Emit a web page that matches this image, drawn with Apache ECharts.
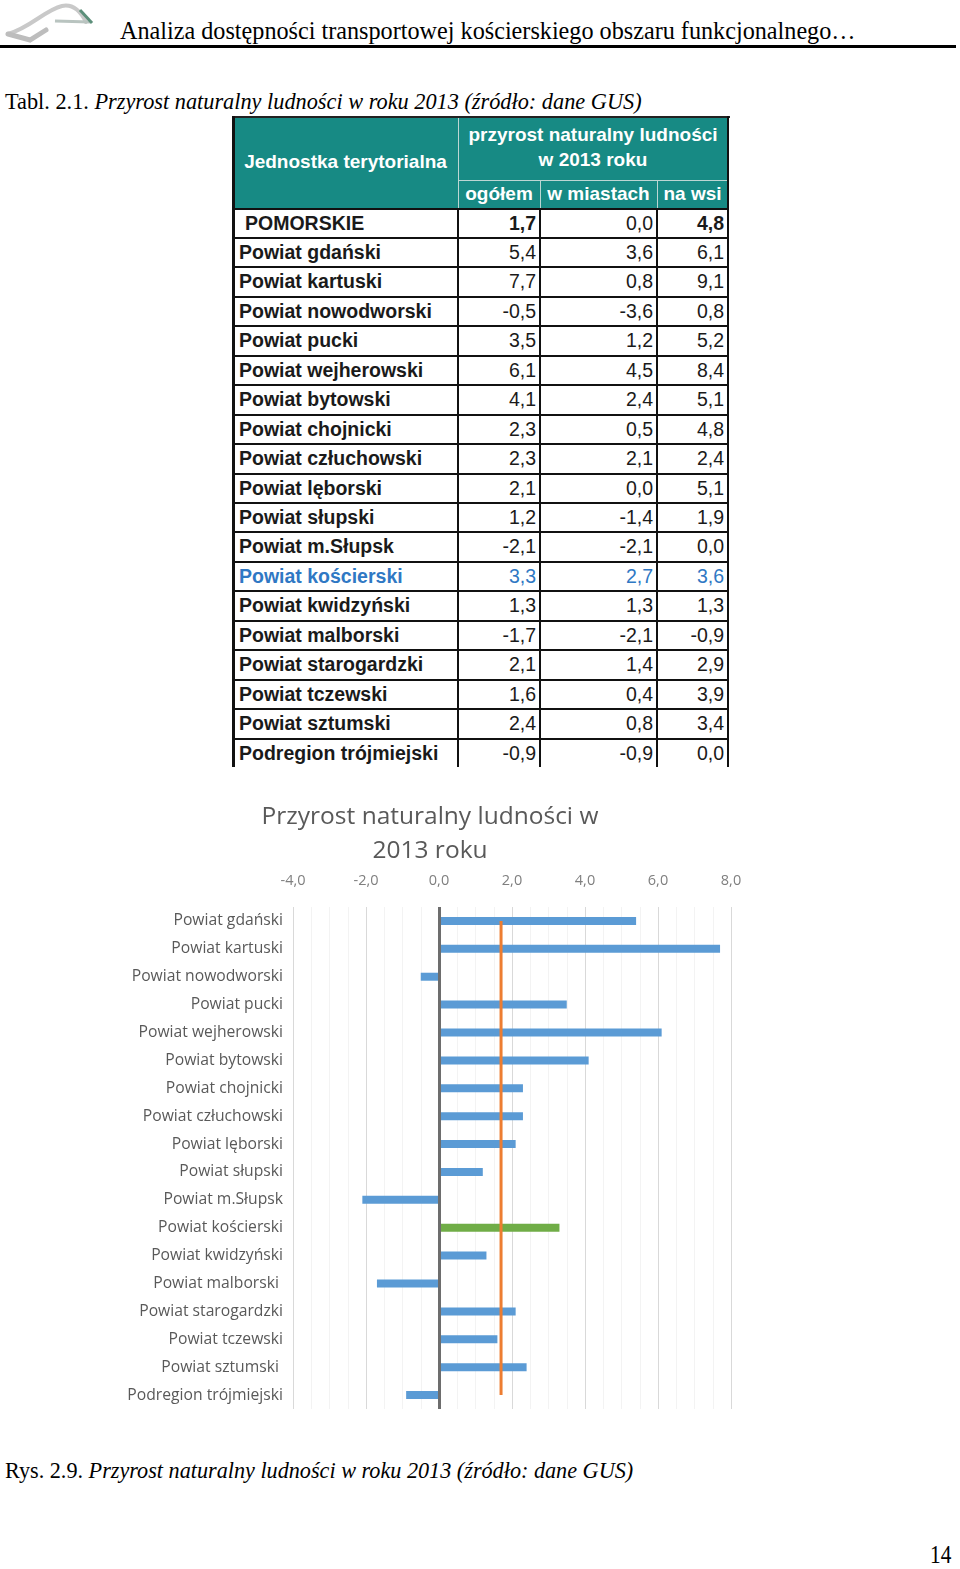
<!DOCTYPE html>
<html>
<head>
<meta charset="utf-8">
<script src="https://cdn.jsdelivr.net/npm/echarts@6/dist/echarts.min.js"></script>
<style>
  html, body { margin:0; padding:0; background:#fff; }
  body { width:960px; height:1569px; position:relative; overflow:hidden; }
  .abs { position:absolute; white-space:nowrap; }
  .serif { font-family:"Liberation Serif","DejaVu Serif",serif; color:#000; }
  .cell { position:absolute; font-family:"Liberation Sans",Arial,sans-serif; font-size:19.5px; line-height:29px; color:#1a1a1a; white-space:nowrap; }
  .hline, .vline { position:absolute; }
  #chart { position:absolute; left:0; top:780px; width:960px; height:660px; }
</style>
</head>
<body>
<!-- header -->
<svg class="abs" style="left:0;top:0" width="110" height="48">
  <path d="M8 34 C 30 28, 45 10, 62 6 C 72 4, 80 10, 86 22" fill="none" stroke="#c9c9c9" stroke-width="4" stroke-linecap="round"/>
  <path d="M8 34 L 30 40 L 46 30" fill="none" stroke="#bdbdbd" stroke-width="5" stroke-linecap="round"/>
  <path d="M55 21 L 90 22" fill="none" stroke="#b9c4c0" stroke-width="3"/>
  <path d="M80 10 L 92 23" fill="none" stroke="#5c8f7a" stroke-width="3"/>
</svg>
<div class="abs serif" id="hdr" style="left:120px;top:17px;font-size:24.2px;line-height:28px;">Analiza dostępności transportowej kościerskiego obszaru funkcjonalnego…</div>
<div class="abs" style="left:0;top:45px;width:956px;height:3px;background:#000;"></div>

<div class="abs serif" id="cap1" style="left:5px;top:89px;font-size:22.3px;line-height:26px;">Tabl. 2.1. <i>Przyrost naturalny ludności w roku 2013 (źródło: dane GUS)</i></div>

<div id="tbl" class="abs" style="left:0;top:0;width:960px;height:767px;overflow:hidden;"></div>

<div id="chart"></div>

<div class="abs serif" id="cap2" style="left:5px;top:1457px;font-size:23px;line-height:28px;transform:scaleX(0.965);transform-origin:0 0;">Rys. 2.9. <i>Przyrost naturalny ludności w roku 2013 (źródło: dane GUS)</i></div>
<div class="abs serif" style="left:930px;top:1541px;font-size:25px;line-height:28px;transform:scaleX(0.85);transform-origin:0 0;">14</div>

<script>
// ---------- DATA ----------
const tableUnits = ["POMORSKIE","Powiat gdański","Powiat kartuski","Powiat nowodworski","Powiat pucki","Powiat wejherowski","Powiat bytowski","Powiat chojnicki","Powiat człuchowski","Powiat lęborski","Powiat słupski","Powiat m.Słupsk","Powiat kościerski","Powiat kwidzyński","Powiat malborski","Powiat starogardzki","Powiat tczewski","Powiat sztumski","Podregion trójmiejski"];
const totalGrowth = [1.7,5.4,7.7,-0.5,3.5,6.1,4.1,2.3,2.3,2.1,1.2,-2.1,3.3,1.3,-1.7,2.1,1.6,2.4,-0.9];
const urbanGrowth = [0.0,3.6,0.8,-3.6,1.2,4.5,2.4,0.5,2.1,0.0,-1.4,-2.1,2.7,1.3,-2.1,1.4,0.4,0.8,-0.9];
const ruralGrowth = [4.8,6.1,9.1,0.8,5.2,8.4,5.1,4.8,2.4,5.1,1.9,0.0,3.6,1.3,-0.9,2.9,3.9,3.4,0.0];

const chartCategories = ["Powiat gdański","Powiat kartuski","Powiat nowodworski","Powiat pucki","Powiat wejherowski","Powiat bytowski","Powiat chojnicki","Powiat człuchowski","Powiat lęborski","Powiat słupski","Powiat m.Słupsk","Powiat kościerski","Powiat kwidzyński","Powiat malborski ","Powiat starogardzki","Powiat tczewski","Powiat sztumski ","Podregion trójmiejski"];
const chartValues = [5.4,7.7,-0.5,3.5,6.1,4.1,2.3,2.3,2.1,1.2,-2.1,3.3,1.3,-1.7,2.1,1.6,2.4,-0.9];
const regionAverage = 1.7;   // POMORSKIE
const highlighted = "Powiat kościerski";
const xTickLabels = ["-4,0","-2,0","0,0","2,0","4,0","6,0","8,0"];

// ---------- TABLE ----------
const tbl = document.getElementById('tbl');
const colX = [233, 458, 540, 657, 728];
const hTop = 117, hMid = 180, hBot = 208.5, rowH = 29.45;
const teal = '#178a84';
function el(cls, css, html) {
  const d = document.createElement('div');
  d.className = cls; d.style.cssText = css; if (html !== undefined) d.innerHTML = html;
  tbl.appendChild(d); return d;
}
el('hline', `left:${colX[0]}px;top:${hTop}px;width:${colX[4]-colX[0]}px;height:${hBot-hTop}px;background:${teal};`);
el('vline', `left:${colX[1]}px;top:${hTop}px;width:1px;height:${hBot-hTop}px;background:#bcd6d3;`);
el('hline', `left:${colX[1]}px;top:${hMid}px;width:${colX[4]-colX[1]}px;height:1px;background:#bcd6d3;`);
el('vline', `left:${colX[2]}px;top:${hMid}px;width:1px;height:${hBot-hMid}px;background:#bcd6d3;`);
el('vline', `left:${colX[3]}px;top:${hMid}px;width:1px;height:${hBot-hMid}px;background:#bcd6d3;`);
const hs = 'color:#fff;font-weight:bold;font-size:19px;text-align:center;';
el('cell', `${hs}left:${colX[0]}px;top:${hTop-1}px;width:${colX[1]-colX[0]}px;line-height:${hBot-hTop}px;height:${hBot-hTop}px;`, 'Jednostka terytorialna');
el('cell', `${hs}left:${colX[1]}px;top:${hTop+5}px;width:${colX[4]-colX[1]}px;line-height:25px;`, 'przyrost naturalny ludności<br>w 2013 roku');
const sub = ['ogółem','w miastach','na wsi'];
for (let i = 0; i < 3; i++) {
  el('cell', `${hs}left:${colX[i+1]}px;top:${hMid}px;width:${colX[i+2]-colX[i+1]}px;line-height:${hBot-hMid}px;`, sub[i]);
}
const fmt = v => v.toFixed(1).replace('.', ',');
tableUnits.forEach((name, r) => {
  const top = hBot + r * rowH;
  const isHL = name === highlighted;
  const color = isHL ? '#2f78c4' : '#1a1a1a';
  const pad = r === 0 ? 12 : 6;
  el('cell', `left:${colX[0]+pad}px;top:${top}px;height:${rowH}px;line-height:${rowH}px;font-weight:bold;color:${color};`, name);
  const vals = [totalGrowth[r], urbanGrowth[r], ruralGrowth[r]];
  vals.forEach((v, c) => {
    const bold = (r === 0 && c !== 1) ? 'font-weight:bold;' : '';
    el('cell', `left:${colX[c+1]}px;top:${top}px;width:${colX[c+2]-colX[c+1]-4}px;height:${rowH}px;line-height:${rowH}px;text-align:right;color:${color};${bold}`, fmt(v));
  });
  el('hline', `left:${colX[0]}px;top:${top+rowH-1}px;width:${colX[4]-colX[0]+1}px;height:2px;background:#111;`);
});
el('hline', `left:${colX[0]}px;top:${hBot-1}px;width:${colX[4]-colX[0]+1}px;height:2px;background:#111;`);
el('hline', `left:${colX[0]-1}px;top:${hTop-1}px;width:${colX[4]-colX[0]+3}px;height:2px;background:#222;`);
el('vline', `left:${colX[0]-1}px;top:${hTop-1}px;width:3px;height:800px;background:#111;`);
el('vline', `left:${colX[4]-1}px;top:${hTop-1}px;width:2px;height:800px;background:#111;`);
for (let i = 1; i < 4; i++) {
  el('vline', `left:${colX[i]-1}px;top:${hBot}px;width:2px;height:800px;background:#111;`);
}

// ---------- CHART ----------
const chart = echarts.init(document.getElementById('chart'), null, { renderer: 'canvas' });
const font = '"Open Sans", Lato, sans-serif';
chart.setOption({
  animation: false,
  title: {
    text: 'Przyrost naturalny ludności w\n2013 roku',
    left: 425, top: 15, textAlign: 'center',
    textStyle: { fontFamily: font, fontSize: 24.5, fontWeight: 'normal', color: '#595959', lineHeight: 34 }
  },
  grid: { left: 293, right: 229, top: 127, bottom: 31, containLabel: false },
  xAxis: {
    type: 'value', position: 'top', min: -4, max: 8, interval: 2,
    axisLine: { show: false }, axisTick: { show: false },
    axisLabel: { margin: 19, color: '#7f7f7f', fontFamily: font, fontSize: 14.5,
      formatter: v => xTickLabels[Math.round((v + 4) / 2)] },
    splitLine: { show: true, lineStyle: { color: '#d9d9d9', width: 1 } },
    minorTick: { show: false, splitNumber: 4 },
    minorSplitLine: { show: true, lineStyle: { color: '#f3f3f3', width: 1 } }
  },
  yAxis: {
    type: 'category', inverse: true, data: chartCategories,
    axisLine: { show: false }, axisTick: { show: false },
    axisLabel: { margin: 10, color: '#595959', fontFamily: font, fontSize: 15.7 },
    splitLine: { show: false }
  },
  series: [
    {
      type: 'bar', barWidth: 8,
      data: chartValues.map((v, i) => ({
        value: v,
        itemStyle: { color: chartCategories[i] === highlighted ? '#70ad47' : '#5b9bd5' }
      })),
      markLine: {
        silent: true, symbol: 'none', label: { show: false },
        lineStyle: { color: '#6d6d6d', width: 3, type: 'solid' },
        data: [{ xAxis: 0 }]
      },
      z: 2
    },
    {
      type: 'line', symbol: 'none', silent: true,
      lineStyle: { color: '#ed7d31', width: 3 },
      data: [[regionAverage, chartCategories[0]], [regionAverage, chartCategories[chartCategories.length - 1]]],
      z: 3
    }
  ]
});
</script>
</body>
</html>
